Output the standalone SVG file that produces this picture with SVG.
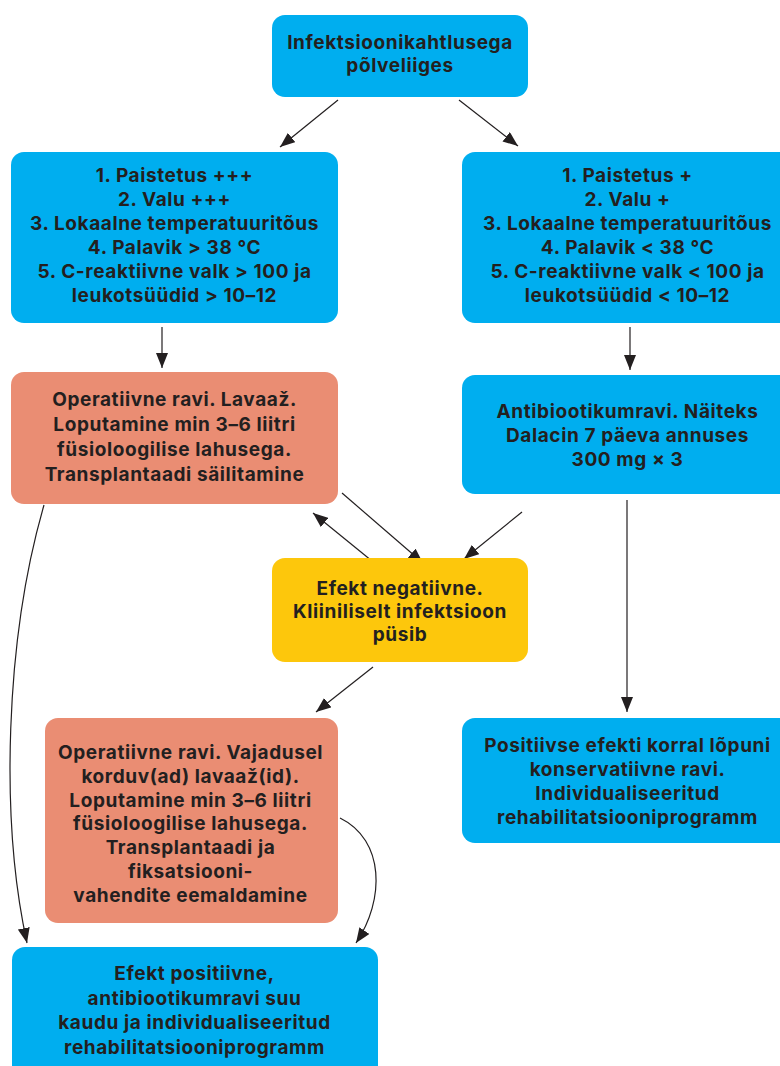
<svg xmlns="http://www.w3.org/2000/svg" width="780" height="1066" viewBox="0 0 780 1066">
<style>
.blue{fill:#00AEEF}
.orange{fill:#EA8D73}
.yellow{fill:#FDC70C}
.t{font-family:Inter,Roboto,"Liberation Sans",sans-serif;font-weight:700;font-size:19px;letter-spacing:0.6px;fill:#231F20;text-anchor:middle;font-variant-ligatures:none}
.c{fill:none;stroke:#231F20;stroke-width:1.2}
</style>
<defs>
<marker id="ah" markerUnits="userSpaceOnUse" markerWidth="16" markerHeight="12" refX="15" refY="6" orient="auto">
<path d="M0,0 L15,6 L0,12 z" fill="#231F20"/>
</marker>
</defs>
<rect width="780" height="1066" fill="#fff"/>
<g id="connectors">
<path class="c" d="M338 100 L280 147" marker-end="url(#ah)"/>
<path class="c" d="M459 100 L518 146" marker-end="url(#ah)"/>
<path class="c" d="M162 327 L162 368" marker-end="url(#ah)"/>
<path class="c" d="M630 327 L630 370" marker-end="url(#ah)"/>
<path class="c" d="M342 493 L423 563" marker-end="url(#ah)"/>
<path class="c" d="M372 561 L313 513" marker-end="url(#ah)"/>
<path class="c" d="M522 512 L464 559" marker-end="url(#ah)"/>
<path class="c" d="M627 500 L627 712" marker-end="url(#ah)"/>
<path class="c" d="M373 667 L316 712" marker-end="url(#ah)"/>
<path class="c" d="M44 505 C 5 640, 0 820, 27 943" marker-end="url(#ah)"/>
<path class="c" d="M340 818 C 385 840, 385 900, 356 943" marker-end="url(#ah)"/>
</g>
<g id="n_top">
<rect class="blue" x="272" y="15" width="256" height="82" rx="13"/>
<text class="t" x="400" y="48.5">Infektsioonikahtlusega</text>
<text class="t" x="400" y="71.5">põlveliiges</text>
</g>
<g id="n_left1">
<rect class="blue" x="11" y="152" width="327" height="171" rx="13"/>
<text class="t" x="174.5" y="182">1. Paistetus +++</text>
<text class="t" x="174.5" y="206">2. Valu +++</text>
<text class="t" x="174.5" y="230">3. Lokaalne temperatuuritõus</text>
<text class="t" x="174.5" y="254">4. Palavik &gt; 38 °C</text>
<text class="t" x="174.5" y="278">5. C-reaktiivne valk &gt; 100 ja</text>
<text class="t" x="174.5" y="302">leukotsüüdid &gt; 10–12</text>
</g>
<g id="n_right1">
<rect class="blue" x="462" y="152" width="331" height="171" rx="13"/>
<text class="t" x="627.5" y="182">1. Paistetus +</text>
<text class="t" x="627.5" y="206">2. Valu +</text>
<text class="t" x="627.5" y="230">3. Lokaalne temperatuuritõus</text>
<text class="t" x="627.5" y="254">4. Palavik &lt; 38 °C</text>
<text class="t" x="627.5" y="278">5. C-reaktiivne valk &lt; 100 ja</text>
<text class="t" x="627.5" y="302">leukotsüüdid &lt; 10–12</text>
</g>
<g id="n_orange1">
<rect class="orange" x="11" y="372" width="327" height="132" rx="13"/>
<text class="t" x="174.5" y="406">Operatiivne ravi. Lavaaž.</text>
<text class="t" x="174.5" y="431">Loputamine min 3–6 liitri</text>
<text class="t" x="174.5" y="456">füsioloogilise lahusega.</text>
<text class="t" x="174.5" y="481">Transplantaadi säilitamine</text>
</g>
<g id="n_antibiotic">
<rect class="blue" x="462" y="375" width="331" height="119" rx="13"/>
<text class="t" x="627.5" y="417.5">Antibiootikumravi. Näiteks</text>
<text class="t" x="627.5" y="441.5">Dalacin 7 päeva annuses</text>
<text class="t" x="627.5" y="465.5">300 mg × 3</text>
</g>
<g id="n_yellow">
<rect class="yellow" x="272" y="558" width="256" height="104" rx="13"/>
<text class="t" x="400" y="595">Efekt negatiivne.</text>
<text class="t" x="400" y="618">Kliiniliselt infektsioon</text>
<text class="t" x="400" y="641">püsib</text>
</g>
<g id="n_orange2">
<rect class="orange" x="45" y="718" width="293" height="205" rx="13"/>
<text class="t" x="190.5" y="759">Operatiivne ravi. Vajadusel</text>
<text class="t" x="190.5" y="782.8">korduv(ad) lavaaž(id).</text>
<text class="t" x="190.5" y="806.6">Loputamine min 3–6 liitri</text>
<text class="t" x="190.5" y="830.4">füsioloogilise lahusega.</text>
<text class="t" x="190.5" y="854.2">Transplantaadi ja</text>
<text class="t" x="190.5" y="878">fiksatsiooni-</text>
<text class="t" x="190.5" y="901.8">vahendite eemaldamine</text>
</g>
<g id="n_positive">
<rect class="blue" x="462" y="718" width="331" height="125" rx="13"/>
<text class="t" x="627.5" y="752">Positiivse efekti korral lõpuni</text>
<text class="t" x="627.5" y="776">konservatiivne ravi.</text>
<text class="t" x="627.5" y="800">Individualiseeritud</text>
<text class="t" x="627.5" y="824">rehabilitatsiooniprogramm</text>
</g>
<g id="n_bottom">
<rect class="blue" x="12" y="947" width="366" height="140" rx="13"/>
<text class="t" x="194.5" y="980">Efekt positiivne,</text>
<text class="t" x="194.5" y="1004.5">antibiootikumravi suu</text>
<text class="t" x="194.5" y="1029">kaudu ja individualiseeritud</text>
<text class="t" x="194.5" y="1053.5">rehabilitatsiooniprogramm</text>
</g>
</svg>
